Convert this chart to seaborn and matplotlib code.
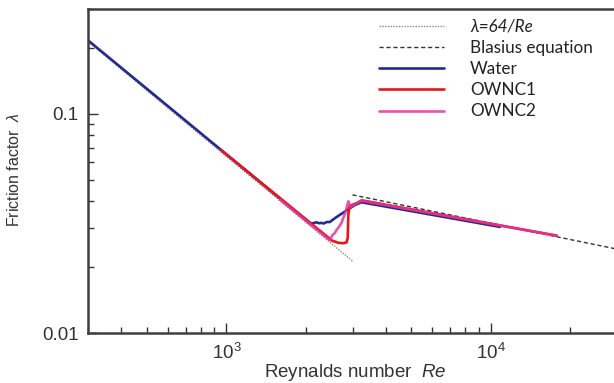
import matplotlib
matplotlib.use("Agg")

import matplotlib.pyplot as plt
import seaborn as sns
from matplotlib.ticker import LogLocator, NullFormatter, FuncFormatter

# Values (Re, friction factor)
lam_re = [300, 3000]
lam_f = [0.213, 0.0213]

blas_re = [3000, 29300]
blas_f = [0.0427, 0.0243]

water_re = [300, 2085, 2190, 2240, 2290, 2340, 2393, 2463, 2572, 2686, 2806, 2932, 3063, 3246, 10840]
water_f = [0.216, 0.0315, 0.0320, 0.0317, 0.0318, 0.0316, 0.0321, 0.0321, 0.0334, 0.0346, 0.0358,
           0.0371, 0.0384, 0.0395, 0.0305]

ownc1_re = [951, 2510, 2649, 2768, 2848, 2877, 2893, 2919, 2984, 3091, 3254, 17800]
ownc1_f = [0.0686, 0.0264, 0.0258, 0.0257, 0.0259, 0.0271, 0.0346, 0.0376, 0.0384, 0.0390, 0.0403, 0.0278]

ownc2_re = [1600, 2462, 2521, 2572, 2610, 2670, 2727, 2765, 2806, 2848, 2873, 2893, 2944, 3007, 3102,
            3254, 17800]
ownc2_f = [0.0405, 0.0265, 0.0280, 0.0286, 0.0295, 0.0306, 0.0318, 0.0334, 0.0349, 0.0371, 0.0386,
           0.0399, 0.0374, 0.0382, 0.0390, 0.0401, 0.0278]

# Style
sns.set_style("ticks")
plt.rcParams["font.family"] = ["Liberation Sans", "DejaVu Sans"]
plt.rcParams["mathtext.fontset"] = "custom"
plt.rcParams["mathtext.rm"] = "Liberation Sans"
plt.rcParams["mathtext.it"] = "Liberation Sans:italic"

fig = plt.figure(figsize=(6.14, 3.83), dpi=100)
ax = fig.add_axes([88.3 / 614, 50 / 383, (614 - 88.3) / 614, 324 / 383])

# reference lines
sns.lineplot(x=lam_re, y=lam_f, ax=ax, color="#8a8a8a", lw=1.0, linestyle=(0, (1, 1)),
             sort=False, label="λ=64/Re")
sns.lineplot(x=blas_re, y=blas_f, ax=ax, color="#333333", lw=1.0, linestyle=(0, (3, 2)),
             sort=False, label="Blasius equation")

# measured curves
sns.lineplot(x=water_re, y=water_f, ax=ax, color="#232a8f", lw=1.9, sort=False, label="Water")
sns.lineplot(x=ownc1_re, y=ownc1_f, ax=ax, color="#e8141c", lw=1.9, sort=False, label="OWNC1")
sns.lineplot(x=ownc2_re, y=ownc2_f, ax=ax, color="#e0369e", lw=1.9, alpha=0.85, sort=False,
             label="OWNC2")

ax.set_xscale("log")
ax.set_yscale("log")
ax.set_xlim(300, 29300)
ax.set_ylim(0.01, 0.301)

ax.xaxis.set_major_locator(LogLocator(base=10, numticks=10))
ax.xaxis.set_minor_locator(LogLocator(base=10, subs=range(2, 10), numticks=20))
ax.xaxis.set_minor_formatter(NullFormatter())
ax.yaxis.set_major_locator(LogLocator(base=10, numticks=10))
ax.yaxis.set_minor_locator(LogLocator(base=10, subs=range(2, 10), numticks=20))
ax.yaxis.set_major_formatter(FuncFormatter(lambda v, _: f"{v:g}"))
ax.yaxis.set_minor_formatter(NullFormatter())

ax.tick_params(which="both", direction="in", top=False, right=False, colors="#333333",
               labelsize=13.5, width=1)
ax.tick_params(which="major", length=7, pad=7)
ax.tick_params(which="minor", length=4)

for side in ["left", "bottom", "top"]:
    ax.spines[side].set_linewidth(1.8)
    ax.spines[side].set_color("#404040")
ax.spines["right"].set_visible(False)

ax.set_xlabel("Reynalds number  $\\it{Re}$", fontsize=13.5, color="#333333")
ax.set_ylabel("Friction factor  $\\it{\\lambda}$", fontsize=11.5, color="#333333")
ax.xaxis.set_label_coords(0.507, -0.09)
ax.yaxis.set_label_coords(-0.126, 0.503)

leg = ax.legend(loc="upper left", bbox_to_anchor=(378.5 / 614, 1 - 19 / 383),
                bbox_transform=fig.transFigure, frameon=False,
                prop={"family": "Lato", "size": 12.3},
                handlelength=3.85, handletextpad=1.5, labelspacing=0.3,
                borderpad=0, borderaxespad=0)
leg.get_texts()[0].set_fontstyle("italic")
for t in leg.get_texts():
    t.set_color("#222222")

fig.savefig("out.png", dpi=100)
